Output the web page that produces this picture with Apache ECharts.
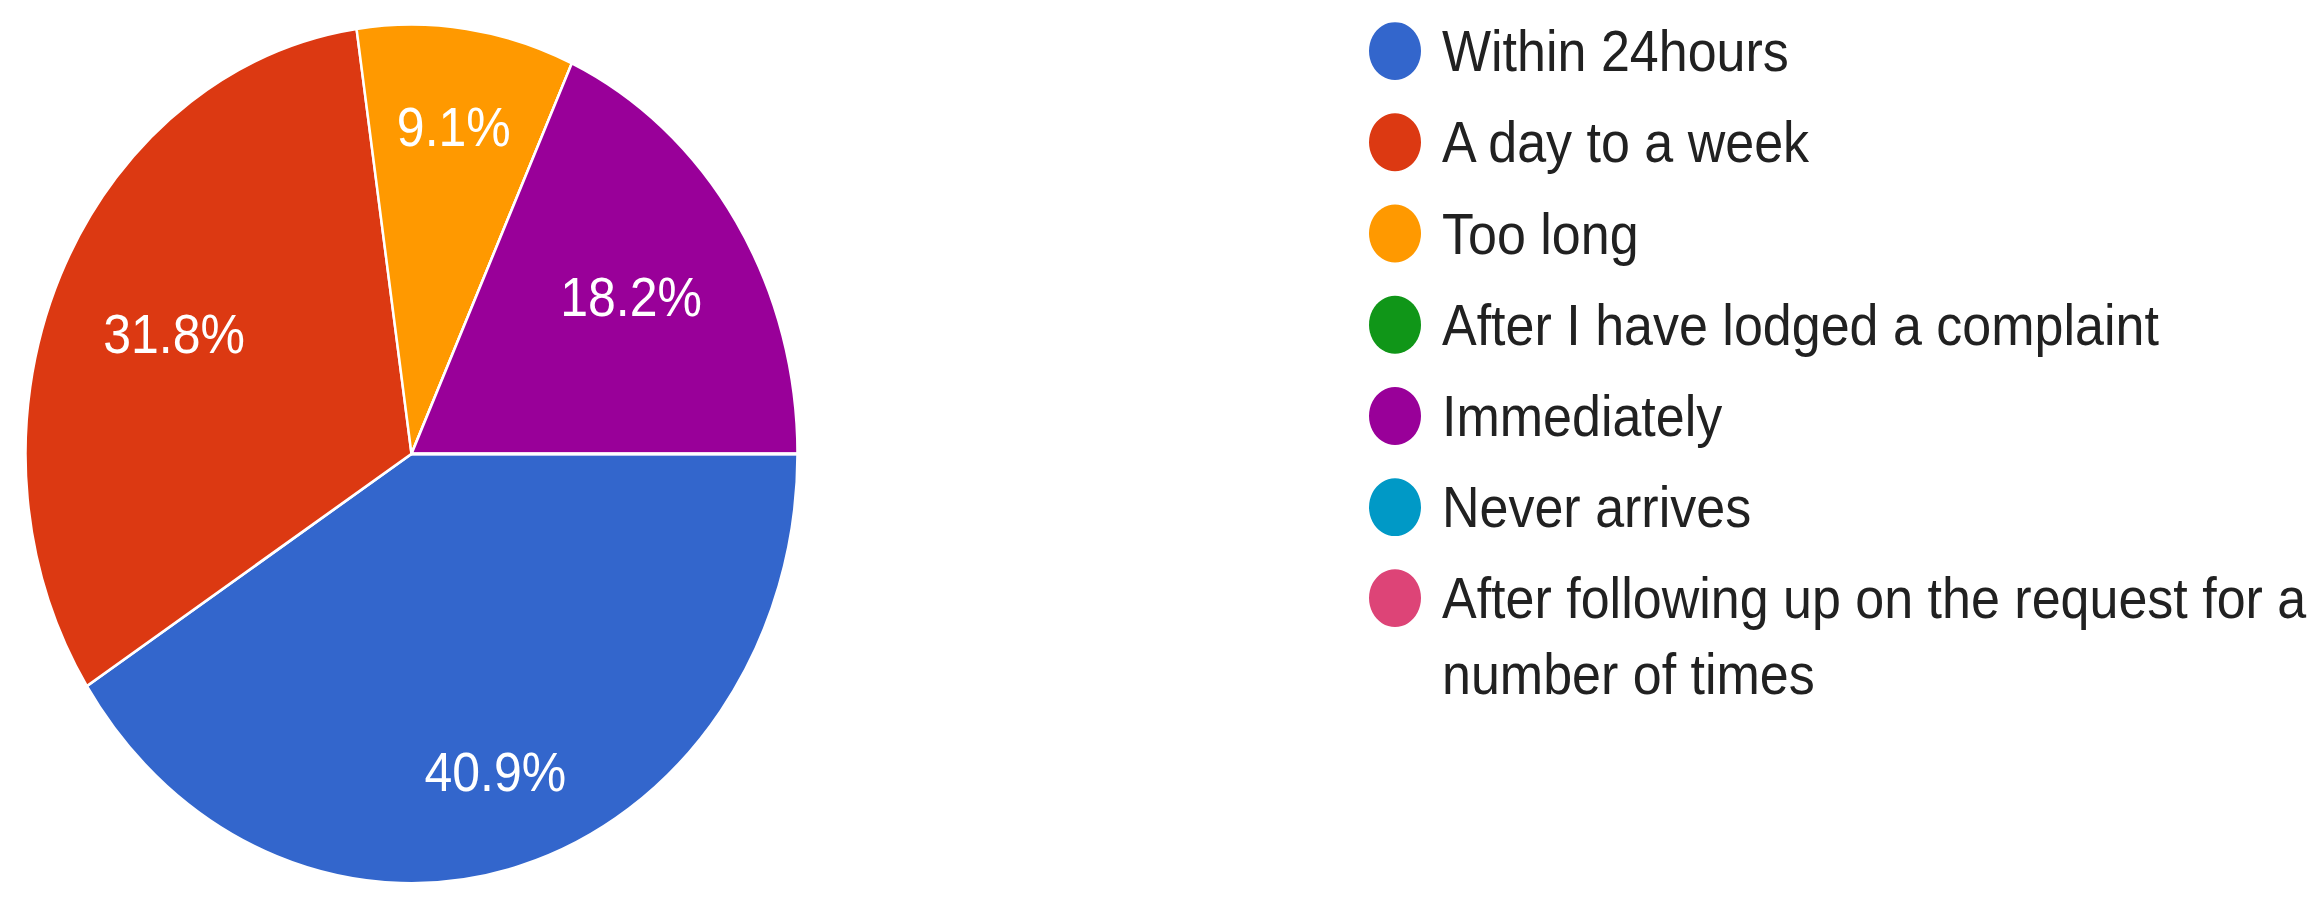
<!DOCTYPE html>
<html>
<head>
<meta charset="utf-8">
<script src="https://cdn.jsdelivr.net/npm/echarts@6/dist/echarts.min.js"></script>
<style>
  html { overflow: hidden; }
  html, body { margin: 0; padding: 0; background: #fff; height: 910px; }
  /* the reference is stretched a bit vertically, so the whole chart is too */
  #chart { width: 2321px; height: 818px; transform: scaleY(1.1125); transform-origin: 0 0; }
</style>
</head>
<body>
<div id="chart"></div>
<script>
const categories = [
  "Within 24hours",
  "A day to a week",
  "Too long",
  "After I have lodged a complaint",
  "Immediately",
  "Never arrives",
  "After following up on the request for a number of times"
];
const counts = [9, 7, 2, 0, 4, 0, 0];
const colors = ["#3366cc", "#dc3912", "#ff9900", "#109618", "#990099", "#0099c6", "#dd4477"];
// which percent labels sit further out in the slice (as in the picture)
const labelOuter = [true, false, true, false, false, false, false];

const font = 'Arial, "Liberation Sans", sans-serif';
const pieData = categories.map((name, i) => ({ name: name, value: counts[i] }));

const chart = echarts.init(document.getElementById("chart"), null, { renderer: "svg" });

const legendBase = {
  orient: "vertical",
  left: 1369,
  padding: 0,
  icon: "circle",
  itemWidth: 52,
  itemHeight: 52,
  itemGap: 30,
  itemStyle: { borderWidth: 0 },
};

// a see-through ring that only carries the percent labels
const labelRing = (inner, outer) => ({
  type: "pie",
  center: [411.5, 408],
  radius: [inner, 385],
  startAngle: 0,
  clockwise: true,
  silent: true,
  data: pieData,
  itemStyle: { color: "transparent", borderWidth: 0 },
  label: {
    show: true,
    position: "inside",
    color: "#fff",
    fontFamily: font,
    fontSize: 50,
    formatter: (p) =>
      p.value > 0 && labelOuter[p.dataIndex] === outer ? p.percent.toFixed(1) + "%" : "",
  },
  labelLine: { show: false },
  emphasis: { disabled: true },
});

const option = {
  color: colors,
  animation: false,
  legend: [
    {
      ...legendBase,
      top: 19.9,
      data: categories.slice(0, 6),
      textStyle: { fontFamily: font, fontSize: 52, lineHeight: 52, color: "#212121", padding: [0, 0, 0, 16] },
    },
    {
      ...legendBase,
      top: 435.6,
      data: categories.slice(6),
      // empty first line keeps the first text line level with the dot
      formatter: (name) => "\n" + name.replace("request for a ", "request for a\n"),
      textStyle: { fontFamily: font, fontSize: 52, lineHeight: 68, color: "#212121", padding: [0, 0, 0, 16] },
    },
  ],
  series: [
    {
      type: "pie",
      center: [411.5, 408],
      radius: [0, 386],
      startAngle: 0,
      clockwise: true,
      data: pieData,
      itemStyle: { borderColor: "#fff", borderWidth: 2.5 },
      label: { show: false },
      labelLine: { show: false },
      emphasis: { disabled: true },
    },
    labelRing(204, true),
    labelRing(131, false),
  ],
};

chart.setOption(option);
</script>
</body>
</html>
